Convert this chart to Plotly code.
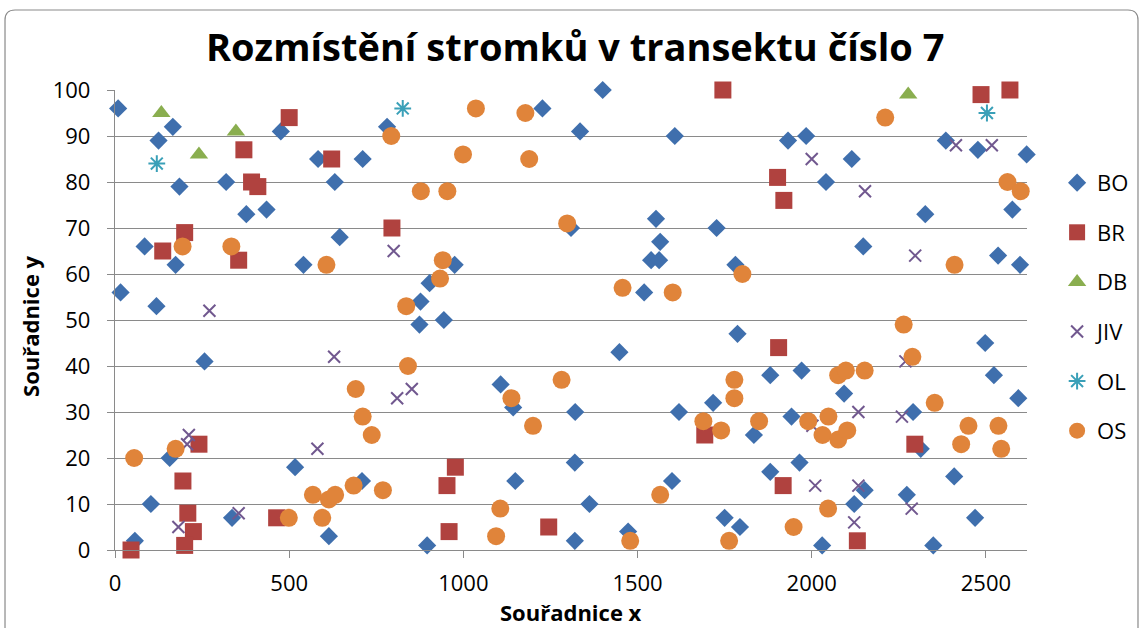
import plotly.graph_objects as go

# ---- data ----
series_names = ["BO", "BR", "DB", "JIV", "OL", "OS"]

bo_x = [9, 166, 125, 476, 583, 711, 185, 319, 631, 377, 435, 85, 174, 541, 645, 16, 119, 781,
        1227, 1400, 1335, 1607, 1309, 1553, 1565, 1539, 1562, 975, 903, 877, 874, 944, 1519,
        1932, 1984, 2385, 2115, 2041, 1727, 2326, 2148, 1781, 2477, 2617, 2576, 2535, 2598,
        257, 157, 103, 57, 336, 517, 614, 709, 1448, 1107, 1143, 1321, 1320, 1149, 1362, 1599,
        896, 1320, 1473, 1619, 1787, 1881, 1971, 2093, 1717, 1834, 1942, 2291, 2313, 1881,
        1965, 2152, 2273, 2122, 1750, 1794, 2030, 2349, 2409, 2498, 2523, 2593, 2469]
bo_y = [96, 92, 89, 91, 85, 85, 79, 80, 80, 73, 74, 66, 62, 62, 68, 56, 53, 92,
        96, 100, 91, 90, 70, 72, 67, 63, 63, 62, 58, 54, 49, 50, 56,
        89, 90, 89, 85, 80, 70, 73, 66, 62, 87, 86, 74, 64, 62,
        41, 20, 10, 2, 7, 18, 3, 15, 43, 36, 31, 30, 19, 15, 10, 15,
        1, 2, 4, 30, 47, 38, 39, 34, 32, 25, 29, 30, 22, 17,
        19, 13, 12, 10, 7, 5, 1, 1, 16, 45, 38, 33, 7]

br_x = [500, 370, 622, 392, 410, 137, 200, 355, 795, 1745, 1902, 1920, 2486, 2569, 241, 195,
        209, 225, 200, 46, 464, 977, 953, 959, 1245, 1905, 1693, 1918, 2131, 2296]
br_y = [94, 87, 85, 80, 79, 65, 69, 63, 70, 100, 81, 76, 99, 100, 23, 15,
        8, 4, 1, 0, 7, 18, 14, 4, 5, 44, 25, 14, 2, 23]

db_x = [133, 347, 241, 2277]
db_y = [95, 91, 86, 99]

jiv_x = [271, 800, 2000, 2153, 2414, 2517, 2297, 629, 810, 212, 207, 182, 355, 581, 852,
         2269, 2002, 2134, 2259, 2010, 2134, 2287, 2122]
jiv_y = [52, 65, 85, 78, 88, 88, 64, 42, 33, 25, 23, 5, 8, 22, 35,
         41, 27, 30, 29, 14, 14, 9, 6]

ol_x = [120, 826, 2503]
ol_y = [84, 96, 95]

os_x = [194, 334, 607, 793, 1036, 1178, 999, 1189, 878, 954, 1298, 941, 933, 836, 1457, 1601,
        2211, 1801, 2410, 2264, 2562, 2600, 691, 711, 737, 55, 174, 499, 568, 614, 632, 595,
        685, 769, 841, 1282, 1138, 1200, 1106, 1565, 1094, 1479, 2289, 1778, 2076, 2098, 2152,
        1778, 1689, 1740, 1849, 1990, 2048, 2031, 2076, 2102, 2353, 2429, 2450, 2536, 2544,
        2047, 1948, 1763]
os_y = [66, 66, 62, 90, 96, 95, 86, 85, 78, 78, 71, 63, 59, 53, 57, 56,
        94, 60, 62, 49, 80, 78, 35, 29, 25, 20, 22, 7, 12, 11, 12, 7,
        14, 13, 40, 37, 33, 27, 9, 12, 3, 2, 42, 37, 38, 39, 39,
        33, 28, 26, 28, 28, 29, 25, 24, 26, 32, 23, 27, 27, 22,
        9, 5, 2]

x_ticks = [0, 500, 1000, 1500, 2000, 2500]
y_ticks = [0, 10, 20, 30, 40, 50, 60, 70, 80, 90, 100]

title_text = "Rozmístění stromků v transektu číslo 7"
x_title = "Souřadnice x"
y_title = "Souřadnice y"

# ---- styling ----
FONT = "'Open Sans', Lato, sans-serif"
GRID = "#8a8a8a"
styles = {
    "BO": dict(symbol="diamond", size=14, color="#3F6FAD"),
    "BR": dict(symbol="square", size=17, color="#B0423F"),
    "DB": dict(symbol="triangle-up", size=16, color="#8AAE4F"),
    "JIV": dict(symbol="x-thin-open", size=12, color="#71588F", line=dict(width=2, color="#71588F")),
    "OL": dict(symbol="asterisk-open", size=14, color="#3AA0B8", line=dict(width=2, color="#3AA0B8")),
    "OS": dict(symbol="circle", size=18, color="#E0843A"),
}
data = {
    "BO": (bo_x, bo_y), "BR": (br_x, br_y), "DB": (db_x, db_y),
    "JIV": (jiv_x, jiv_y), "OL": (ol_x, ol_y), "OS": (os_x, os_y),
}

fig = go.Figure()
for name in series_names:
    xs, ys = data[name]
    st = styles[name]
    marker = dict(symbol=st["symbol"], size=st["size"], color=st["color"],
                  line=st.get("line", dict(width=0)))
    fig.add_trace(go.Scatter(x=xs, y=ys, mode="markers", name=name, marker=marker,
                             cliponaxis=False, legendgroup=name))

# rounded outer border (paper coordinates)
x0, x1, y0, y1 = -0.1206, 1.1217, -0.1957, 1.1739
rx, ry = 0.011, 0.0217
border_path = (f"M {x0+rx},{y1} L {x1-rx},{y1} Q {x1},{y1} {x1},{y1-ry} "
               f"L {x1},{y0+ry} Q {x1},{y0} {x1-rx},{y0} L {x0+rx},{y0} "
               f"Q {x0},{y0} {x0},{y0+ry} L {x0},{y1-ry} Q {x0},{y1} {x0+rx},{y1} Z")

fig.update_layout(
    width=1143, height=628,
    paper_bgcolor="white", plot_bgcolor="white",
    margin=dict(l=115, r=116, t=90, b=78, autoexpand=False),
    font=dict(family=FONT, color="black"),
    showlegend=True,
    legend=dict(x=1.033, y=0.8437, xanchor="left", yanchor="top",
                font=dict(size=22, family=FONT, color="black"),
                traceorder="grouped", tracegroupgap=18,
                bgcolor="rgba(0,0,0,0)"),
    annotations=[
        dict(text=f"<b>{title_text}</b>", xref="paper", yref="paper", x=0.5044, y=1.0957,
             xanchor="center", yanchor="middle", showarrow=False,
             font=dict(size=38, family=FONT, color="black")),
        dict(text=f"<b>{x_title}</b>", xref="paper", yref="paper", x=0.5, y=-0.1348,
             xanchor="center", yanchor="middle", showarrow=False,
             font=dict(size=22, family=FONT, color="black")),
        dict(text=f"<b>{y_title}</b>", xref="paper", yref="paper", x=-0.0932, y=0.487,
             xanchor="center", yanchor="middle", showarrow=False, textangle=-90,
             font=dict(size=22, family=FONT, color="black")),
    ],
    shapes=[dict(type="path", xref="paper", yref="paper", path=border_path,
                 line=dict(color="#8a8a8a", width=1.2))],
)
fig.update_xaxes(range=[0, 2618], tickvals=x_ticks, showgrid=False, zeroline=False,
                 automargin=False,
                 showline=True, linecolor=GRID, linewidth=1.3, ticks="outside", ticklen=7,
                 tickcolor=GRID, tickwidth=1.3, ticklabelstandoff=6,
                 tickfont=dict(size=22, family=FONT, color="black"))
fig.update_yaxes(range=[0, 100], tickvals=y_ticks, showgrid=True, gridcolor=GRID, gridwidth=1.3,
                 automargin=False,
                 zeroline=False, showline=True, linecolor=GRID, linewidth=1.3, ticks="outside",
                 ticklen=7, tickcolor=GRID, tickwidth=1.3, ticklabelstandoff=12,
                 tickfont=dict(size=22, family=FONT, color="black"))

fig.write_html("out.html", config={"displayModeBar": False},
               post_script="document.body.style.margin='0';document.body.style.overflow='hidden';")
